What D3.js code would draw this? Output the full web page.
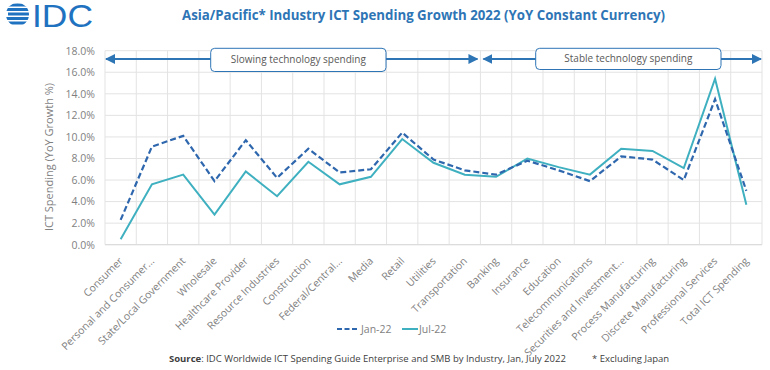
<!DOCTYPE html>
<html><head><meta charset="utf-8">
<script src="https://cdn.jsdelivr.net/npm/d3@7"></script>
<style>body{margin:0;background:#fff}svg{display:block}</style>
</head><body>
<svg id="c" width="770" height="370"></svg>
<script>
const categories = ["Consumer","Personal and Consumer...","State/Local Government","Wholesale","Healthcare Provider","Resource Industries","Construction","Federal/Central...","Media","Retail","Utilities","Transportation","Banking","Insurance","Education","Telecommunications","Securities and Investment...","Process Manufacturing","Discrete Manufacturing","Professional Services","Total ICT Spending"];
const jan22 = [2.3,9.1,10.1,5.9,9.7,6.2,8.9,6.7,7.0,10.4,7.9,6.9,6.5,7.8,6.9,5.9,8.2,7.9,6.0,13.5,5.0];
const jul22 = [0.5,5.6,6.5,2.8,6.8,4.5,7.7,5.6,6.3,9.8,7.6,6.5,6.3,8.0,7.2,6.5,8.9,8.7,7.1,15.4,3.7];
const yTicks = [0,2,4,6,8,10,12,14,16,18];
const seriesNames = ["Jan-22","Jul-22"];
const titleText = "Asia/Pacific* Industry ICT Spending Growth 2022 (YoY Constant Currency)";
const yTitle = "ICT Spending (YoY Growth %)";
const zones = [{label:"Slowing technology spending", from:0, to:12},{label:"Stable technology spending", from:12, to:21}];

(function(){
const svg = d3.select("#c");
const FONT = "'Open Sans', sans-serif";
const L = 105, R = 762, T = 50.7, B = 244.7;
const x = d3.scaleBand().domain(categories).range([L,R]);
const y = d3.scaleLinear().domain([0,18]).range([B,T]);
const pos = i => L + i*x.step();
const defs = svg.append("defs");

// logo
const logo = svg.append("g");
defs.append("clipPath").attr("id","globe").append("circle").attr("cx",17.5).attr("cy",14.5).attr("r",11.5);
const lg = logo.append("g").attr("clip-path","url(#globe)");
[4,8.5,13,17.5,22].forEach((yy,i)=>{
  lg.append("rect").attr("x",i%2?4:8).attr("y",yy-0.5).attr("width",i%2?30:24).attr("height",3).attr("fill","#1f72bf");
});
logo.append("text").attr("x",32).attr("y",26.5).attr("font-family","'Liberation Sans', Arial, sans-serif")
  .attr("font-size",31).attr("fill","#1f72bf").attr("textLength",61).attr("lengthAdjust","spacingAndGlyphs").text("IDC");

// title
svg.append("text").attr("x",423.5).attr("y",20).attr("text-anchor","middle")
  .attr("font-family",FONT).attr("font-weight","bold").attr("font-size",13.5).attr("fill","#2e75b6")
  .attr("textLength",483).attr("lengthAdjust","spacingAndGlyphs").text(titleText);

// grid
const g = svg.append("g");
g.selectAll(".hg").data(yTicks).join("line").attr("x1",L).attr("x2",R)
  .attr("y1",d=>y(d)).attr("y2",d=>y(d)).attr("stroke","#e3e3e3").attr("stroke-width",1);
g.selectAll(".vg").data(d3.range(categories.length+1)).join("line")
  .attr("x1",pos).attr("x2",pos).attr("y1",T).attr("y2",B).attr("stroke","#e3e3e3");
g.append("line").attr("x1",L).attr("x2",R).attr("y1",B).attr("y2",B).attr("stroke","#d9d9d9");

// y axis
const ya = svg.append("g").attr("transform",`translate(${L},0)`)
  .call(d3.axisLeft(y).tickValues(yTicks).tickFormat(d=>d.toFixed(1)+"%").tickSize(0).tickPadding(10));
ya.select(".domain").remove();
ya.selectAll("text").attr("font-family",FONT).attr("font-size",10.5).attr("fill","#7f7f7f");
svg.append("text").attr("transform","translate(53,157) rotate(-90)").attr("text-anchor","middle")
  .attr("font-family",FONT).attr("font-size",11).attr("fill","#7f7f7f").text(yTitle);

// x axis
const xa = svg.append("g").attr("transform",`translate(0,${B})`)
  .call(d3.axisBottom(x).tickSize(0).tickPadding(0));
xa.select(".domain").remove();
xa.selectAll("text").attr("font-family",FONT).attr("font-size",10.5).attr("fill","#7f7f7f")
  .attr("text-anchor","end").attr("dy",null).attr("y",0)
  .attr("transform","translate(3,17) rotate(-45)");

// lines
const line = d3.line().x((d,i)=>x(categories[i])+x.bandwidth()/2).y(d=>y(d));
svg.append("path").datum(jul22).attr("d",line).attr("fill","none").attr("stroke","#3fb0c0").attr("stroke-width",2);
svg.append("path").datum(jan22).attr("d",line).attr("fill","none").attr("stroke","#2e67ad").attr("stroke-width",2.2).attr("stroke-dasharray","6,3");

// zone arrows
defs.append("marker").attr("id","ah").attr("viewBox","0 0 10 10").attr("refX",9).attr("refY",5)
  .attr("markerWidth",5).attr("markerHeight",5).attr("orient","auto-start-reverse")
  .append("path").attr("d","M0,0L10,5L0,10z").attr("fill","#2e75b6");
const ay = 59;
const boxes = [{x0:210.7,x1:386,y0:48.3,y1:71.5},{x0:535.7,x1:721,y0:48.3,y1:69.5}];
zones.forEach((z,i)=>{
  const xa0 = pos(z.from)+(i?2:0), xa1 = pos(z.to)-(i?0:2);
  svg.append("line").attr("x1",xa0+1).attr("x2",xa1-1).attr("y1",ay).attr("y2",ay)
    .attr("stroke","#2e75b6").attr("stroke-width",2)
    .attr("marker-start","url(#ah)").attr("marker-end","url(#ah)");
  const b = boxes[i];
  svg.append("rect").attr("x",b.x0).attr("y",b.y0).attr("width",b.x1-b.x0).attr("height",b.y1-b.y0)
    .attr("rx",4).attr("fill","#fff").attr("stroke","#2e75b6").attr("stroke-width",1);
  svg.append("text").attr("x",(b.x0+b.x1)/2).attr("y",(b.y0+b.y1)/2+3.5).attr("text-anchor","middle")
    .attr("font-family",FONT).attr("font-size",10).attr("fill","#595959").text(z.label);
});

// legend
const lgd = svg.append("g");
lgd.append("line").attr("x1",337).attr("x2",358).attr("y1",329).attr("y2",329).attr("stroke","#2e67ad").attr("stroke-width",2.2).attr("stroke-dasharray","5,2.5");
lgd.append("text").attr("x",361).attr("y",332.5).attr("font-family",FONT).attr("font-size",10.5).attr("fill","#7f7f7f").text(seriesNames[0]);
lgd.append("line").attr("x1",402).attr("x2",418).attr("y1",329).attr("y2",329).attr("stroke","#3fb0c0").attr("stroke-width",2);
lgd.append("text").attr("x",419).attr("y",332.5).attr("font-family",FONT).attr("font-size",10.5).attr("fill","#7f7f7f").text(seriesNames[1]);

// source
const src = svg.append("text").attr("x",169).attr("y",362).attr("font-family",FONT).attr("font-size",9.5).attr("fill","#404040");
src.append("tspan").attr("font-weight","bold").text("Source");
src.append("tspan").text(": IDC Worldwide ICT Spending Guide Enterprise and SMB by Industry, Jan, July 2022");
svg.append("text").attr("x",592).attr("y",362).attr("font-family",FONT).attr("font-size",9.5).attr("fill","#404040").text("* Excluding Japan");
})();
</script>
</body></html>
